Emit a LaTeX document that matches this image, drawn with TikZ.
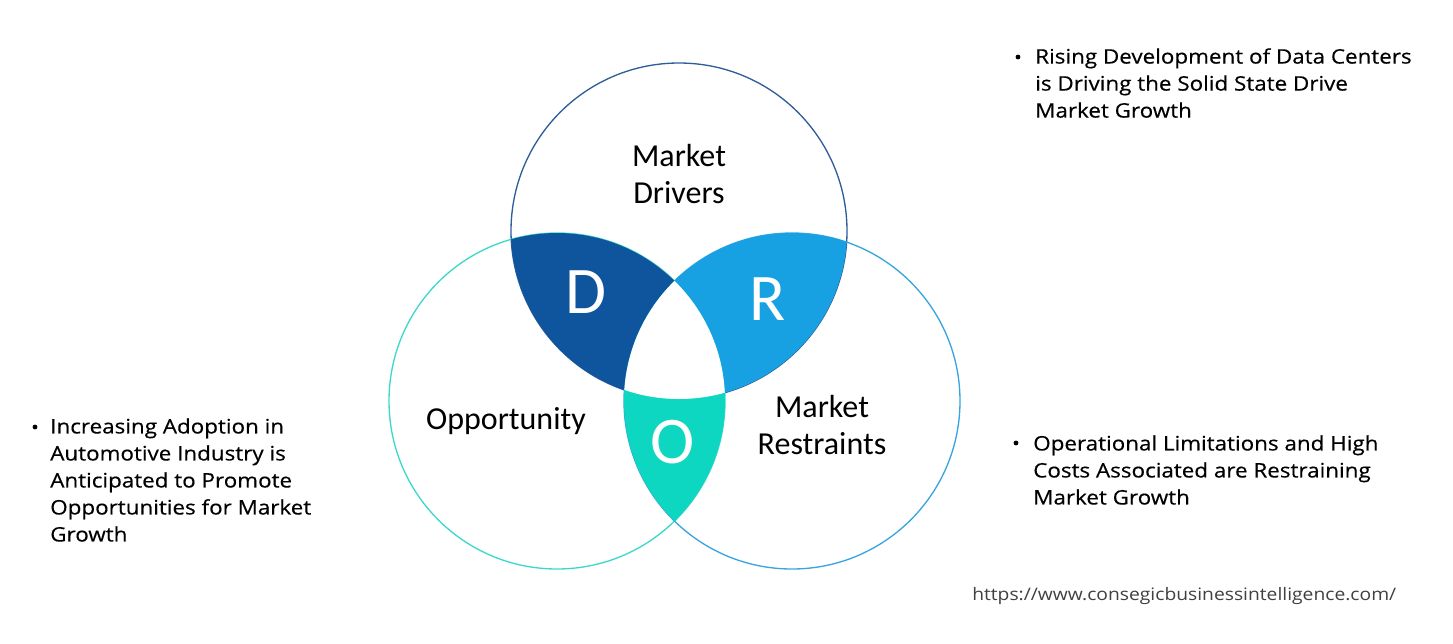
\documentclass[tikz,border=0pt]{standalone}
\usepackage{fontspec}
\setmainfont{Open Sans}[FakeStretch=1.12,FakeBold=0.4]
\newfontfamily\urlfont{Open Sans}[FakeStretch=1.12]
\newfontfamily\calibfont{Carlito}
\definecolor{dcol}{HTML}{0F559D}
\definecolor{rcol}{HTML}{17A1E3}
\definecolor{ocol}{HTML}{0DD7C1}
\definecolor{tline}{HTML}{2F5D9A}
\definecolor{lline}{HTML}{3ED8CB}
\definecolor{rline}{HTML}{39A5DF}
\definecolor{urlcol}{HTML}{404040}
\tikzset{
  bultext/.style={anchor=north west, inner sep=0pt, align=left, font=\fontsize{15}{20.25}\selectfont},
  bulldot/.style={circle, fill=black, inner sep=0pt, minimum size=3.6pt},
  circlabel/.style={align=center, inner sep=0pt, font=\calibfont\fontsize{24}{27.75}\selectfont},
  bigletter/.style={inner sep=0pt, text=white, font=\calibfont\fontsize{50}{60}\selectfont},
}
\begin{document}
\begin{tikzpicture}[x=0.75pt,y=-0.75pt]
\useasboundingbox (0,0) rectangle (1453,643);
\def\circr{126pt}
\coordinate (T) at (679,231);
\coordinate (L) at (557,401);
\coordinate (Rt) at (792,401);
% outlines
\draw[tline, line width=1pt] (T) circle[radius=\circr];
\draw[lline, line width=1pt] (L) circle[radius=\circr];
\draw[rline, line width=1pt] (Rt) circle[radius=\circr];
% D region
\begin{scope}
  \clip (T) circle[radius=\circr];
  \clip (L) circle[radius=\circr];
  \fill[dcol] (0,0) rectangle (1453,643);
\end{scope}
% R region
\begin{scope}
  \clip (T) circle[radius=\circr];
  \clip (Rt) circle[radius=\circr];
  \fill[rcol] (0,0) rectangle (1453,643);
\end{scope}
% O region
\begin{scope}
  \clip (L) circle[radius=\circr];
  \clip (Rt) circle[radius=\circr];
  \fill[ocol] (0,0) rectangle (1453,643);
\end{scope}
% center
\begin{scope}
  \clip (T) circle[radius=\circr];
  \clip (L) circle[radius=\circr];
  \clip (Rt) circle[radius=\circr];
  \fill[white] (0,0) rectangle (1453,643);
\end{scope}
% labels
\node[circlabel] (drv) at (679,174) {Market\\Drivers};
\node[circlabel] (opp) at (506,421) {Opportunity};
\node[circlabel] (rst) at (822,425) {Market\\Restraints};
\node[bigletter] (dl) at (586,292) {D};
\node[bigletter] (rl) at (768,299) {R};
\node[bigletter] (ol) at (673,442) {O};
% bullet texts
\node[bulldot] (b1) at (1018,57) {};
\node[bultext] (t1) at (1035,48) {Rising Development of Data Centers\\is Driving the Solid State Drive\\Market Growth};
\node[bulldot] (b2) at (35,427) {};
\node[bultext] (t2) at (50,418) {Increasing Adoption in\\Automotive Industry is\\Anticipated to Promote\\Opportunities for Market\\Growth};
\node[bulldot] (b3) at (1016,443) {};
\node[bultext] (t3) at (1033,435) {Operational Limitations and High\\Costs Associated are Restraining\\Market Growth};
\node[anchor=base west, inner sep=0pt, text=urlcol, font=\urlfont\fontsize{12.9}{16}\selectfont] (url) at (972,600) {https://www.consegicbusinessintelligence.com/};
\end{tikzpicture}
\end{document}
